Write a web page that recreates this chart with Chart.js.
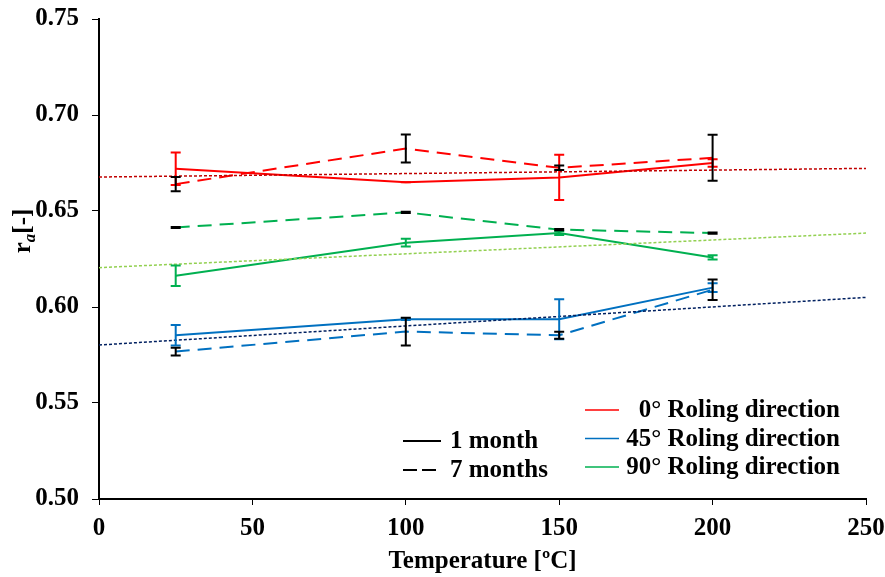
<!DOCTYPE html>
<html>
<head>
<meta charset="utf-8">
<script src="https://cdn.jsdelivr.net/npm/chart.js@4"></script>
<style>
  html, body { margin: 0; padding: 0; background: #fff; }
  #wrap { width: 885px; height: 577px; }
</style>
</head>
<body>
<div id="wrap"><canvas id="chart1" width="885" height="577"></canvas></div>
<script>
// temperatures of the measurements
const temps = [25, 100, 150, 200];

// 0 deg rolling direction
const red1 = [0.672, 0.665, 0.6675, 0.675];
const red1Err = [0.0085, 0, 0.0118, 0.002];
const red7 = [0.664, 0.6825, 0.6725, 0.6777];
const red7Err = [0.0037, 0.0073, 0.0012, 0.012];

// 45 deg rolling direction
const blue1 = [0.5853, 0.5936, 0.5936, 0.6101];
const blue1Err = [0.0053, 0.0004, 0.0104, 0.0023];
const blue7 = [0.5768, 0.5872, 0.5853, 0.609];
const blue7Err = [0.002, 0.0072, 0.0018, 0.0053];

// 90 deg rolling direction
const green1 = [0.6163, 0.6335, 0.6385, 0.6258];
const green1Err = [0.0053, 0.002, 0.001, 0.0011];
const green7 = [0.6414, 0.6493, 0.6403, 0.6385];
const green7Err = [0.0003, 0.0003, 0.0003, 0.0003];

// linear trend lines
const trendX = [0, 250];
const redTrend = [0.6677, 0.6722];
const greenTrend = [0.6205, 0.6385];
const blueTrend = [0.5802, 0.605];

const dirLabels = ['0° Roling direction', '45° Roling direction', '90° Roling direction'];
const dirColors = ['#ff0000', '#0070c0', '#00b050'];
const ageLabels = ['1 month', '7 months'];

const font = '"Liberation Serif", "Times New Roman", serif';

const pts = (xs, ys) => xs.map((x, i) => ({ x: x, y: ys[i] }));

function line(label, ys, color, dashed, err, errColor) {
  return {
    label: label,
    data: pts(temps, ys),
    borderColor: color,
    borderWidth: 2,
    borderDash: dashed ? [14, 8] : [],
    pointRadius: 0,
    fill: false,
    tension: 0,
    err: err,
    errColor: errColor
  };
}

function trend(ys, color) {
  return {
    data: pts(trendX, ys),
    borderColor: color,
    borderWidth: 1.5,
    borderDash: [3, 2],
    pointRadius: 0,
    fill: false
  };
}

// error bars drawn through the scales
const errorBars = {
  id: 'errorBars',
  afterDatasetsDraw(chart) {
    const { ctx, scales: { x, y } } = chart;
    ctx.save();
    ctx.lineWidth = 2;
    chart.data.datasets.forEach(ds => {
      if (!ds.err) return;
      ctx.strokeStyle = ds.errColor;
      ds.data.forEach((p, i) => {
        const px = x.getPixelForValue(p.x);
        const top = y.getPixelForValue(p.y + ds.err[i]);
        const bot = y.getPixelForValue(p.y - ds.err[i]);
        ctx.beginPath();
        ctx.moveTo(px, top); ctx.lineTo(px, bot);
        ctx.moveTo(px - 5, top); ctx.lineTo(px + 5, top);
        ctx.moveTo(px - 5, bot); ctx.lineTo(px + 5, bot);
        ctx.stroke();
      });
    });
    ctx.restore();
  }
};

// legends and y title
const extras = {
  id: 'extras',
  afterDraw(chart) {
    const ctx = chart.ctx;
    ctx.save();
    ctx.font = 'bold 25px ' + font;
    ctx.fillStyle = '#000';
    ctx.textBaseline = 'middle';

    dirLabels.forEach((t, i) => {
      const yy = 410 + 28.5 * i;
      ctx.strokeStyle = dirColors[i];
      ctx.lineWidth = 1.5;
      ctx.setLineDash([]);
      ctx.beginPath(); ctx.moveTo(585, yy); ctx.lineTo(619, yy); ctx.stroke();
      ctx.textAlign = 'right';
      ctx.fillText(t, 840, yy + 1);
    });

    ageLabels.forEach((t, i) => {
      const yy = 441 + 29 * i;
      ctx.strokeStyle = '#000';
      ctx.lineWidth = 2;
      ctx.setLineDash(i ? [14, 5] : []);
      ctx.beginPath(); ctx.moveTo(403, yy); ctx.lineTo(441, yy); ctx.stroke();
      ctx.setLineDash([]);
      ctx.textAlign = 'left';
      ctx.fillText(t, 450, yy + 1);
    });

    // y title r_a[-]
    ctx.translate(22, 231);
    ctx.rotate(-Math.PI / 2);
    ctx.textAlign = 'left';
    ctx.textBaseline = 'alphabetic';
    const f1 = 'bold 25px ' + font, f2 = 'italic bold 17px ' + font;
    ctx.font = f1; const w1 = ctx.measureText('r').width;
    ctx.font = f2; const w2 = ctx.measureText('a').width;
    ctx.font = f1; const w3 = ctx.measureText('[-]').width;
    let cx = -(w1 + w2 + w3) / 2;
    ctx.font = f1; ctx.fillText('r', cx, 8); cx += w1;
    ctx.font = f2; ctx.fillText('a', cx, 13); cx += w2;
    ctx.font = f1; ctx.fillText('[-]', cx, 8);
    ctx.restore();
  }
};

const config = {
  type: 'line',
  data: {
    datasets: [
      trend(redTrend, '#c00000'),
      trend(greenTrend, '#92d050'),
      trend(blueTrend, '#002060'),
      line('0° 1 month', red1, dirColors[0], false, red1Err, dirColors[0]),
      line('0° 7 months', red7, dirColors[0], true, red7Err, '#000'),
      line('45° 1 month', blue1, dirColors[1], false, blue1Err, dirColors[1]),
      line('45° 7 months', blue7, dirColors[1], true, blue7Err, '#000'),
      line('90° 1 month', green1, dirColors[2], false, green1Err, dirColors[2]),
      line('90° 7 months', green7, dirColors[2], true, green7Err, '#000')
    ]
  },
  options: {
    responsive: false,
    animation: false,
    layout: { padding: { top: 19, right: 19, left: 0, bottom: 0 } },
    plugins: { legend: { display: false }, tooltip: { enabled: false } },
    scales: {
      x: {
        type: 'linear',
        min: 0, max: 250,
        border: { color: '#000', width: 2 },
        grid: { drawOnChartArea: false, color: '#000', tickLength: 6 },
        ticks: { stepSize: 50, color: '#000', padding: 9, maxRotation: 0, font: { family: font, size: 25, weight: 'bold' } },
        title: { display: true, text: 'Temperature [ºC]', color: '#000', padding: { top: 0, bottom: 0 }, font: { family: font, size: 25, weight: 'bold' } },
        afterFit(s) { s.height = 78; s.paddingLeft = 0; s.paddingRight = 0; }
      },
      y: {
        min: 0.5, max: 0.75,
        border: { color: '#000', width: 2 },
        grid: { drawOnChartArea: false, color: '#000', tickLength: 7 },
        ticks: { stepSize: 0.05, color: '#000', padding: 13, callback: v => v.toFixed(2), font: { family: font, size: 25, weight: 'bold' } },
        afterFit(s) { s.width = 99; s.paddingTop = 0; s.paddingBottom = 0; }
      }
    }
  },
  plugins: [errorBars, extras]
};

const chart1 = new Chart(document.getElementById('chart1'), config);
</script>
</body>
</html>
